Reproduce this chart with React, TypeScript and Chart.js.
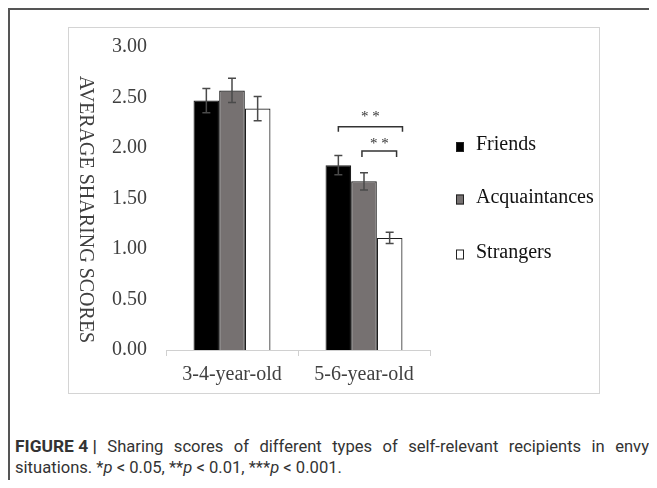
import React, { useEffect, useRef } from "react";
import { Chart, registerables } from "chart.js";

Chart.register(...registerables);

// ---- data ----
const categories = ["3-4-year-old", "5-6-year-old"];
const seriesNames = ["Friends", "Acquaintances", "Strangers"];
const friends = [2.47, 1.83];
const acquaintances = [2.57, 1.67];
const strangers = [2.39, 1.11];
const friendsErr = [0.12, 0.095];
const acquaintancesErr = [0.12, 0.085];
const strangersErr = [0.12, 0.055];
const yMin = 0;
const yMax = 3;
const yStep = 0.5;
const yTitle = "AVERAGE SHARING SCORES";
// significance brackets: category index, bar from/to (dataset index), level (data units), drop, label
const sigCategory = [1, 1];
const sigFrom = [0, 1];
const sigTo = [2, 2];
const sigLevel = [2.21, 1.97];
const sigDrop = [0.05, 0.06];
const sigLabel = ["* *", "* *"];

// ---- styles ----
const SERIF = "'Liberation Serif', 'Times New Roman', serif";
const fills = ["#000000", "#767171", "#ffffff"];
const legendFills = ["#000000", "#767171", "#ffffff"];
const errs = [friendsErr, acquaintancesErr, strangersErr];
const series = [friends, acquaintances, strangers];
// bracket horizontal offsets as fraction of bar width (from bar centre)
const sigFromFrac = [0, -0.08];
const sigToFrac = [0.5, 0.27];
const sigTextGap = [10, 7];

const overlayPlugin = {
  id: "overlay",
  afterDatasetsDraw(chart: any) {
    const ctx = chart.ctx;
    const y = chart.scales.y;
    const area = chart.chartArea;
    // error bars
    ctx.save();
    ctx.strokeStyle = "#4a4a4a";
    ctx.lineWidth = 1.5;
    chart.data.datasets.forEach((ds: any, di: number) => {
      const meta = chart.getDatasetMeta(di);
      meta.data.forEach((bar: any, i: number) => {
        const v = ds.data[i];
        const e = errs[di][i];
        const x = bar.x;
        const yt = y.getPixelForValue(v + e);
        const yb = y.getPixelForValue(v - e);
        ctx.beginPath();
        ctx.moveTo(x, yt);
        ctx.lineTo(x, yb);
        ctx.moveTo(x - 4, yt);
        ctx.lineTo(x + 4, yt);
        ctx.moveTo(x - 4, yb);
        ctx.lineTo(x + 4, yb);
        ctx.stroke();
      });
    });
    ctx.restore();

    // significance brackets
    ctx.save();
    ctx.strokeStyle = "#333333";
    ctx.lineWidth = 1.5;
    ctx.fillStyle = "#333333";
    ctx.font = `15px ${SERIF}`;
    ctx.textAlign = "center";
    ctx.textBaseline = "middle";
    for (let k = 0; k < sigLabel.length; k++) {
      const b1 = chart.getDatasetMeta(sigFrom[k]).data[sigCategory[k]];
      const b2 = chart.getDatasetMeta(sigTo[k]).data[sigCategory[k]];
      const x1 = b1.x + sigFromFrac[k] * b1.width;
      const x2 = b2.x + sigToFrac[k] * b2.width;
      const yl = y.getPixelForValue(sigLevel[k]);
      const yd = y.getPixelForValue(sigLevel[k] - sigDrop[k]);
      ctx.beginPath();
      ctx.moveTo(x1, yd);
      ctx.lineTo(x1, yl);
      ctx.lineTo(x2, yl);
      ctx.lineTo(x2, yd);
      ctx.stroke();
      ctx.fillText(sigLabel[k], (x1 + x2) / 2, yl - sigTextGap[k]);
    }
    ctx.restore();

    // y-axis title (reading top to bottom)
    ctx.save();
    ctx.fillStyle = "#404040";
    ctx.font = `20px ${SERIF}`;
    ctx.textAlign = "center";
    ctx.textBaseline = "middle";
    ctx.translate(16, (area.top + area.bottom) / 2 + 11);
    ctx.rotate(Math.PI / 2);
    ctx.fillText(yTitle, 0, 0);
    ctx.restore();

    // legend
    ctx.save();
    ctx.font = `20px ${SERIF}`;
    ctx.textAlign = "left";
    ctx.textBaseline = "alphabetic";
    const baseTop = area.top + 103;
    const gaps = [0, 52.5, 107.5];
    seriesNames.forEach((name, i) => {
      const baseline = baseTop + gaps[i];
      const sx = area.right + 26;
      ctx.fillStyle = legendFills[i];
      ctx.fillRect(sx, baseline - 8, 8, 10);
      ctx.strokeStyle = "#222";
      ctx.lineWidth = 1;
      ctx.strokeRect(sx + 0.5, baseline - 7.5, 7, 9);
      ctx.fillStyle = "#111";
      ctx.fillText(name, area.right + 46, baseline);
    });
    ctx.restore();
  },
};

function BarChart() {
  const ref = useRef<HTMLCanvasElement | null>(null);
  useEffect(() => {
    if (!ref.current) return;
    const chart = new Chart(ref.current, {
      type: "bar",
      data: {
        labels: categories,
        datasets: seriesNames.map((name, i) => ({
          label: name,
          data: series[i],
          backgroundColor: fills[i],
          borderColor: "#1e1e1e",
          borderWidth: 1.2,
          categoryPercentage: 0.583,
          barPercentage: 1,
        })),
      },
      options: {
        animation: false,
        responsive: false,
        devicePixelRatio: 1,
        layout: { padding: { left: 40, top: 19, right: 169, bottom: 0 } },
        plugins: {
          legend: { display: false },
          tooltip: { enabled: false },
          title: { display: false },
        },
        scales: {
          x: {
            grid: {
              offset: true,
              drawOnChartArea: false,
              drawTicks: true,
              tickLength: 6,
              color: "#d0d0d0",
              lineWidth: 1,
            },
            border: { display: true, color: "#d0d0d0", width: 1 },
            ticks: {
              font: { family: SERIF, size: 20 },
              color: "#404040",
              padding: 7,
            },
            afterFit: (s: any) => {
              s.height = 43;
            },
          },
          y: {
            min: yMin,
            max: yMax,
            ticks: {
              stepSize: yStep,
              callback: (v: any) => Number(v).toFixed(2),
              font: { family: SERIF, size: 20 },
              color: "#404040",
              padding: 19,
            },
            grid: { display: false, drawTicks: false },
            border: { display: false },
            afterFit: (s: any) => {
              s.width = 57;
              s.paddingTop = 0;
              s.paddingBottom = 0;
            },
          },
        },
      },
      plugins: [overlayPlugin],
    });
    return () => chart.destroy();
  }, []);
  return <canvas ref={ref} width={530} height={365} style={{ display: "block" }} />;
}

export default function App() {
  return (
    <div style={{ position: "relative", height: 472 }}>
      <div
        style={{
          position: "absolute",
          left: 0,
          top: 0,
          width: 649,
          height: 480,
          boxSizing: "border-box",
          borderTop: "2px solid #555",
          borderLeft: "2px solid #555",
        }}
      />
      <div
        style={{
          position: "absolute",
          left: 60,
          top: 19,
          width: 530,
          height: 365,
          border: "1px solid #d4d4d4",
        }}
      >
        <BarChart />
      </div>
      <div
        style={{
          position: "absolute",
          left: 7,
          top: 428,
          width: 634,
          fontFamily: "Roboto, 'Noto Sans', sans-serif",
          fontSize: 16.6,
          lineHeight: "21px",
          color: "#333",
        }}
      >
        <div style={{ textAlign: "justify", textAlignLast: "justify", whiteSpace: "normal" }}>
          <b style={{ display: "inline-block", fontSize: 17.4 }}>FIGURE 4 |</b> Sharing scores of different types of self-relevant recipients in envy
        </div>
        <div style={{ whiteSpace: "nowrap" }}>
          situations. *<i>p</i> &lt; 0.05, **<i>p</i> &lt; 0.01, ***<i>p</i> &lt; 0.001.
        </div>
      </div>
    </div>
  );
}
